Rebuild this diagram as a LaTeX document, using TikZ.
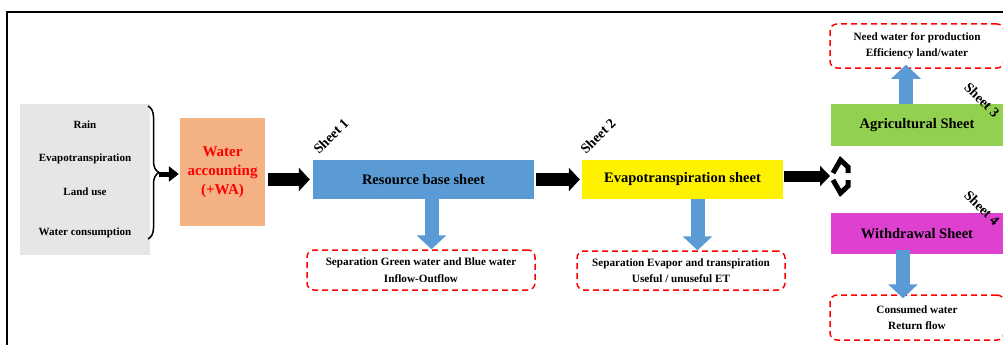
\documentclass[tikz,border=0pt]{standalone}
\usepackage{fontspec}
\setmainfont{Liberation Serif}
\usepackage{xcolor}
\definecolor{color1}{RGB}{91, 155, 213}
\definecolor{color2}{RGB}{244, 177, 131}
\definecolor{color3}{RGB}{146, 208, 80}
\definecolor{color4}{RGB}{222, 64, 208}
\definecolor{color5}{RGB}{230, 230, 230}
\usetikzlibrary{arrows.meta, calc, decorations.pathreplacing}

\begin{document}
\begin{tikzpicture}[x = 1pt, y = -1pt,
	box/.style = {inner sep = 0pt, font = \bfseries\fontsize{14.5}{16}\selectfont},
	note/.style = {draw = red, line width = 1.5pt, dash pattern = on 6pt off 4pt, rounded corners = 7pt, align = center, inner sep = 0pt, font = \bfseries\fontsize{11.2}{16.5}\selectfont},
	sheetlabel/.style = {font = \bfseries\fontsize{14}{16}\selectfont, inner sep = 0pt},
	item/.style = {font = \bfseries\fontsize{11}{13}\selectfont},
	bigarrow/.style = {line width = 13pt, -{Triangle[width = 23pt, length = 11pt]}},
	bluearrow/.style = {line width = 14pt, color1, -{Triangle[width = 29pt, length = 14pt]}}]
	\clip (0, 0) rectangle (1003, 345);
	\draw[line width = 1.5pt] (7, 345) -- (7, 12) -- (1003, 12);
	% inputs
	\node[box, fill = color5, minimum width = 130pt, minimum height = 151pt] (inputs) at (85, 179.5) {};
	\node[item] (rain) at (85, 125) {Rain};
	\node[item] (evapo) at (85, 159) {Evapotranspiration};
	\node[item] (landuse) at (85, 192) {Land use};
	\node[item] (consumption) at (85, 233) {Water consumption};
	\coordinate (bracetop) at (148, 106);
	\coordinate (bracebot) at (148, 239);
	\draw[line width = 1.5pt, decorate, decoration = {brace, amplitude = 11pt}] (bracetop) -- (bracebot);
	\coordinate (bracetip) at (159, 174);
	% sheets
	\node[box, fill = color2, minimum width = 85pt, minimum height = 108pt, text = red, align = center, font = \bfseries\fontsize{15}{19}\selectfont] (wa) at (222.5, 172) {Water\\accounting\\(+WA)};
	\node[box, fill = color1, minimum width = 221pt, minimum height = 39pt] (rb) at (423.5, 179.5) {Resource base sheet};
	\node[box, fill = yellow, minimum width = 201pt, minimum height = 39pt] (et) at (682.5, 179.5) {Evapotranspiration sheet};
	\node[box, fill = color3, minimum width = 172pt, minimum height = 42pt] (ag) at (917, 125) {Agricultural Sheet};
	\node[box, fill = color4, minimum width = 172pt, minimum height = 41pt] (wd) at (917, 233.5) {Withdrawal Sheet};
	\node[sheetlabel, rotate = 45] (s1) at (331, 136) {Sheet 1};
	\node[sheetlabel, rotate = 45] (s2) at (598, 136) {Sheet 2};
	\node[sheetlabel, rotate = -45] (s3) at (982, 100) {Sheet 3};
	\node[sheetlabel, rotate = -45] (s4) at (982, 208) {Sheet 4};
	% notes
	\node[note, minimum width = 228pt, minimum height = 40pt] (n1) at (421, 270) {Separation Green water and Blue water\\Inflow-Outflow};
	\node[note, minimum width = 208pt, minimum height = 39pt] (n2) at (681, 270.5) {Separation Evapor and transpiration\\Useful / unuseful ET};
	\node[note, minimum width = 174pt, minimum height = 44pt] (n3) at (917, 46) {Need water for production\\Efficiency land/water};
	\node[note, minimum width = 174pt, minimum height = 45pt] (n4) at (917, 317.5) {Consumed water\\Return flow};
	% black arrows
	\draw[line width = 5pt, -{Triangle[width = 15pt, length = 10pt]}] (bracetip) -- ([xshift = -1pt]wa.west |- bracetip);
	\draw[bigarrow] ([xshift = 3pt]wa.east |- rb.west) -- ([xshift = -3pt]rb.west);
	\draw[bigarrow] ([xshift = 2pt]rb.east) -- ([xshift = -2pt]et.west);
	\coordinate (split) at (830, 176);
	\draw[line width = 11pt, -{Triangle[width = 20pt, length = 10pt]}] ([xshift = 1pt]et.east |- split) -- (split);
	\draw[line width = 5pt, miter limit = 4] (833, 173) -- (840.5, 160) -- (848, 167) -- (848, 173);
	\draw[line width = 5pt, miter limit = 4] (833, 180) -- (840.5, 193) -- (848, 186) -- (848, 180);
	% blue arrows
	\draw[bluearrow] ([xshift = 8pt]rb.south) -- ([xshift = 8pt]rb.south |- n1.north);
	\draw[bluearrow] ([xshift = 15pt]et.south) -- ([xshift = 15pt]et.south |- n2.north);
	\draw[bluearrow] ([xshift = -11pt]ag.north) -- ([xshift = -11pt, yshift = 4pt]ag.north |- n3.south);
	\draw[bluearrow] ([xshift = -14pt, yshift = 4pt]wd.south) -- ([xshift = -14pt, yshift = -4pt]wd.south |- n4.north);
\end{tikzpicture}
\end{document}
